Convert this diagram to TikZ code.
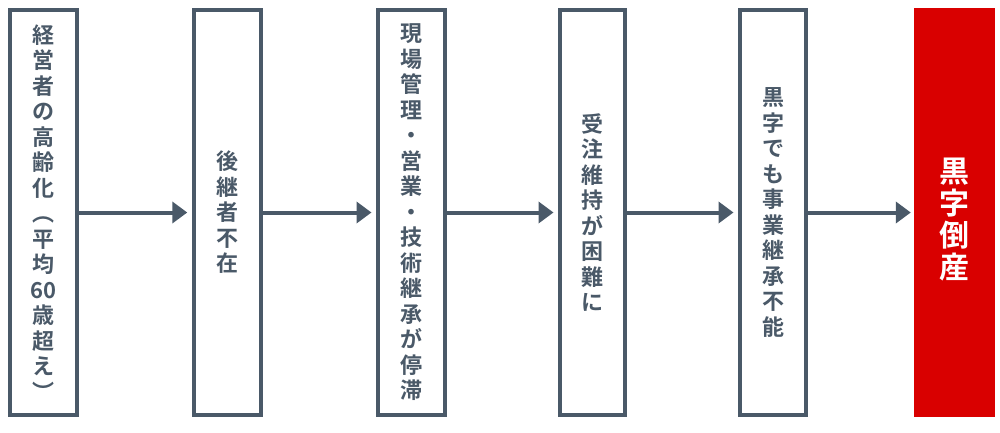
\documentclass[tikz,border=0pt]{standalone}
\usepackage{fontspec}
\setmainfont{Noto Sans CJK JP Bold}
\usetikzlibrary{arrows.meta}
\definecolor{slate}{RGB}{74,89,104}
\definecolor{alert}{RGB}{217,0,0}
\begin{document}
\begin{tikzpicture}[x=1pt,y=-1pt,
  stepbox/.style={draw=slate,line width=4pt,fill=white,inner sep=0pt,
    minimum height=405pt,text=slate,align=center,
    font=\fontsize{22pt}{25.5pt}\selectfont},
  endbox/.style={fill=alert,inner sep=0pt,minimum width=81pt,minimum height=409pt},
  endtext/.style={text=white,align=center,inner sep=0pt,yshift=-7pt,
    font=\fontsize{30pt}{32pt}\selectfont},
  flow/.style={draw=slate,line width=4pt,-{Triangle[length=15pt,width=21pt]}}]
\useasboundingbox (0,0) rectangle (1000,432);
\node[stepbox,minimum width=67pt] (b1) at (43.5,212.5)
  {経\\営\\者\\の\\高\\齢\\化\\︵\\平\\均\\60\\歳\\超\\え\\︶};
\node[stepbox,minimum width=67pt] (b2) at (227.3,212.5)
  {後\\継\\者\\不\\在};
\node[stepbox,minimum width=67pt] (b3) at (411.5,212.5)
  {現\\場\\管\\理\\・\\営\\業\\・\\技\\術\\継\\承\\が\\停\\滞};
\node[stepbox,minimum width=65pt] (b4) at (592.5,212.5)
  {受\\注\\維\\持\\が\\困\\難\\に};
\node[stepbox,minimum width=66pt] (b5) at (773,212.5)
  {黒\\字\\で\\も\\事\\業\\継\\承\\不\\能};
\node[endbox,label={[endtext]center:黒\\字\\倒\\産}] (b6) at (954.5,212.5) {};
\draw[flow,shorten >=4.5pt] (b1.east) -- (b2.west);
\draw[flow,shorten >=4.5pt] (b2.east) -- (b3.west);
\draw[flow,shorten >=4.5pt] (b3.east) -- (b4.west);
\draw[flow,shorten >=4.5pt] (b4.east) -- (b5.west);
\draw[flow,shorten >=3pt] (b5.east) -- (b6.west);
\end{tikzpicture}
\end{document}
